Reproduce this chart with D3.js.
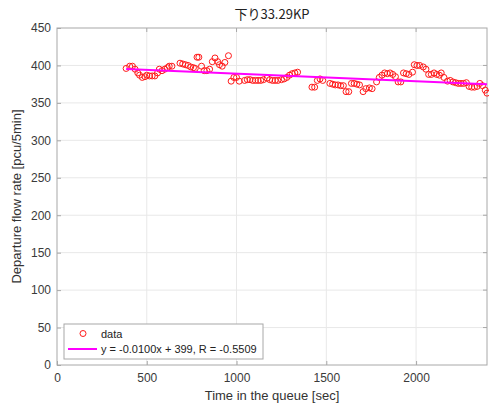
<!DOCTYPE html>
<html>
<head>
<meta charset="utf-8">
<script src="https://cdn.jsdelivr.net/npm/d3@7"></script>
<style>
  html, body { margin: 0; padding: 0; background: #fff; }
  svg { display: block; font-family: "Liberation Sans", Arial, Helvetica, sans-serif; }
</style>
</head>
<body>
<svg id="chart" width="489" height="405"></svg>
<script>
// Queue-discharge observations: time in queue (sec) and departure flow (pcu/5min)
const timeSec = [
  385, 405, 420, 435, 450, 460, 475, 490, 500, 515, 530, 545, 560, 570, 585, 600, 615, 625, 640,
  685, 700, 715, 730, 745, 760, 770, 780, 790, 805, 820, 835, 850, 865, 880, 895, 905, 920, 935, 955,
  970, 985, 1000, 1015, 1045, 1060, 1075, 1090, 1105, 1120, 1135, 1150, 1170, 1185, 1200, 1215, 1230,
  1250, 1265, 1280, 1295, 1310, 1325, 1340,
  1420, 1435, 1450, 1465, 1480,
  1520, 1535, 1550, 1565, 1580, 1595, 1610, 1625, 1640, 1655, 1670, 1685, 1705, 1720, 1740, 1755,
  1780, 1795, 1810, 1825, 1840, 1855, 1870, 1885, 1900, 1915, 1930, 1945, 1960, 1980, 1990, 2005,
  2020, 2040, 2055, 2070, 2085, 2100, 2115, 2130, 2140, 2155, 2175, 2190, 2205, 2220, 2235, 2250,
  2265, 2280, 2295, 2310, 2325, 2340, 2355, 2370, 2385, 2395
];
const flowRate = [
  396, 399, 399, 395, 390, 387, 384, 385, 387, 386, 386, 386, 390, 395, 393, 395, 397, 399, 399,
  403, 402, 401, 400, 398, 397, 396, 411, 411, 399, 393, 393, 395, 405, 410, 405, 401, 399, 404, 413,
  379, 384, 384, 379, 380, 381, 381, 380, 380, 380, 380, 381, 383, 381, 380, 380, 380,
  381, 382, 384, 387, 389, 390, 391,
  371, 371, 380, 382, 380,
  376, 375, 374, 374, 373, 373, 365, 365, 376, 376, 375, 374, 365, 369, 370, 369,
  378, 384, 387, 390, 389, 390, 388, 385, 378, 378, 390, 389, 388, 391, 401, 400,
  400, 398, 395, 388, 388, 390, 388, 387, 390, 384, 379, 380, 378, 377, 376, 376,
  376, 377, 372, 371, 371, 372, 376, 373, 367, 363
];

// Least-squares fit reported in the legend
const fitSlope = -0.0100;
const fitIntercept = 399;
const fitR = -0.5509;

const xTicks = [0, 500, 1000, 1500, 2000];
const yTicks = [0, 50, 100, 150, 200, 250, 300, 350, 400, 450];

const titleText = "下り33.29KP";
const xLabel = "Time in the queue [sec]";
const yLabel = "Departure flow rate [pcu/5min]";
const legendLabels = ["data", `y = ${fitSlope.toFixed(4)}x + ${fitIntercept}, R = ${fitR.toFixed(4)}`];

const data = timeSec.map((t, i) => ({ t, v: flowRate[i] }));

const margin = { left: 57, top: 28, right: 2, bottom: 40 };
const W = 489, H = 405;
const innerW = W - margin.left - margin.right;
const innerH = H - margin.top - margin.bottom;

const svg = d3.select("#chart");
const g = svg.append("g").attr("transform", `translate(${margin.left},${margin.top})`);

const x = d3.scaleLinear().domain([0, d3.max(timeSec)]).range([0, innerW]);
const y = d3.scaleLinear().domain([0, 450]).range([innerH, 0]);

// grid
g.append("g").selectAll("line.gx").data(xTicks.slice(1)).join("line")
  .attr("x1", d => x(d)).attr("x2", d => x(d))
  .attr("y1", 0).attr("y2", innerH)
  .attr("stroke", "#e8e8e8").attr("stroke-width", 1);
g.append("g").selectAll("line.gy").data(yTicks.slice(1, -1)).join("line")
  .attr("x1", 0).attr("x2", innerW)
  .attr("y1", d => y(d)).attr("y2", d => y(d))
  .attr("stroke", "#e8e8e8").attr("stroke-width", 1);

// axes (ticks pointing inward)
const axisColor = "#a8a8a8";
const xAxis = g.append("g").attr("transform", `translate(0,${innerH})`)
  .call(d3.axisBottom(x).tickValues(xTicks).tickSize(-4).tickPadding(8).tickFormat(d3.format("d")));
const yAxis = g.append("g")
  .call(d3.axisLeft(y).tickValues(yTicks).tickSize(-4).tickPadding(6).tickFormat(d3.format("d")));
[xAxis, yAxis].forEach(a => {
  a.select(".domain").remove();
  a.selectAll(".tick line").attr("stroke", axisColor);
  a.selectAll(".tick text").attr("fill", "#3a3a3a").style("font-size", "12px")
    .style("font-family", '"Liberation Sans", Arial, sans-serif');
});

// box
g.append("rect").attr("x", 0).attr("y", 0).attr("width", innerW).attr("height", innerH)
  .attr("fill", "none").attr("stroke", axisColor).attr("stroke-width", 1);
// top/right ticks mirrored
g.append("g").selectAll("line").data(xTicks.slice(1)).join("line")
  .attr("x1", d => x(d)).attr("x2", d => x(d)).attr("y1", 0).attr("y2", 4)
  .attr("stroke", axisColor);
g.append("g").selectAll("line").data(yTicks.slice(1, -1)).join("line")
  .attr("x1", innerW).attr("x2", innerW - 4).attr("y1", d => y(d)).attr("y2", d => y(d))
  .attr("stroke", axisColor);

// data markers
g.append("g").selectAll("circle").data(data).join("circle")
  .attr("cx", d => x(d.t)).attr("cy", d => y(d.v)).attr("r", 3)
  .attr("fill", "none").attr("stroke", "#ff1a1a").attr("stroke-width", 1);

// fitted line
const tExt = d3.extent(timeSec);
g.append("line")
  .attr("x1", x(tExt[0])).attr("y1", y(fitSlope * tExt[0] + fitIntercept))
  .attr("x2", x(tExt[1])).attr("y2", y(fitSlope * tExt[1] + fitIntercept))
  .attr("stroke", "#ff00ff").attr("stroke-width", 2);

// title and axis labels
svg.append("text").attr("x", margin.left + innerW / 2).attr("y", 19)
  .attr("text-anchor", "middle").attr("fill", "#222").style("font-size", "13px")
  .style("font-family", '"Noto Sans CJK JP", "Liberation Sans", sans-serif')
  .text(titleText);
svg.append("text").attr("x", margin.left + innerW / 2).attr("y", 400)
  .attr("text-anchor", "middle").attr("fill", "#333").style("font-size", "13px")
  .text(xLabel);
svg.append("text").attr("transform", `translate(21,${margin.top + innerH / 2}) rotate(-90)`)
  .attr("text-anchor", "middle").attr("fill", "#333").style("font-size", "13px")
  .text(yLabel);

// legend
const lg = svg.append("g").attr("transform", "translate(64,324)");
lg.append("rect").attr("width", 199).attr("height", 35)
  .attr("fill", "#fff").attr("stroke", "#a8a8a8").attr("stroke-width", 1);
lg.append("circle").attr("cx", 19).attr("cy", 9.5).attr("r", 3)
  .attr("fill", "none").attr("stroke", "#ff1a1a").attr("stroke-width", 1);
lg.append("line").attr("x1", 4).attr("x2", 33).attr("y1", 25).attr("y2", 25)
  .attr("stroke", "#ff00ff").attr("stroke-width", 2);
lg.selectAll("text").data(legendLabels).join("text")
  .attr("x", 37).attr("y", (d, i) => 13.5 + i * 15.5)
  .attr("fill", "#222").style("font-size", "11px")
  .text(d => d);
</script>
</body>
</html>
